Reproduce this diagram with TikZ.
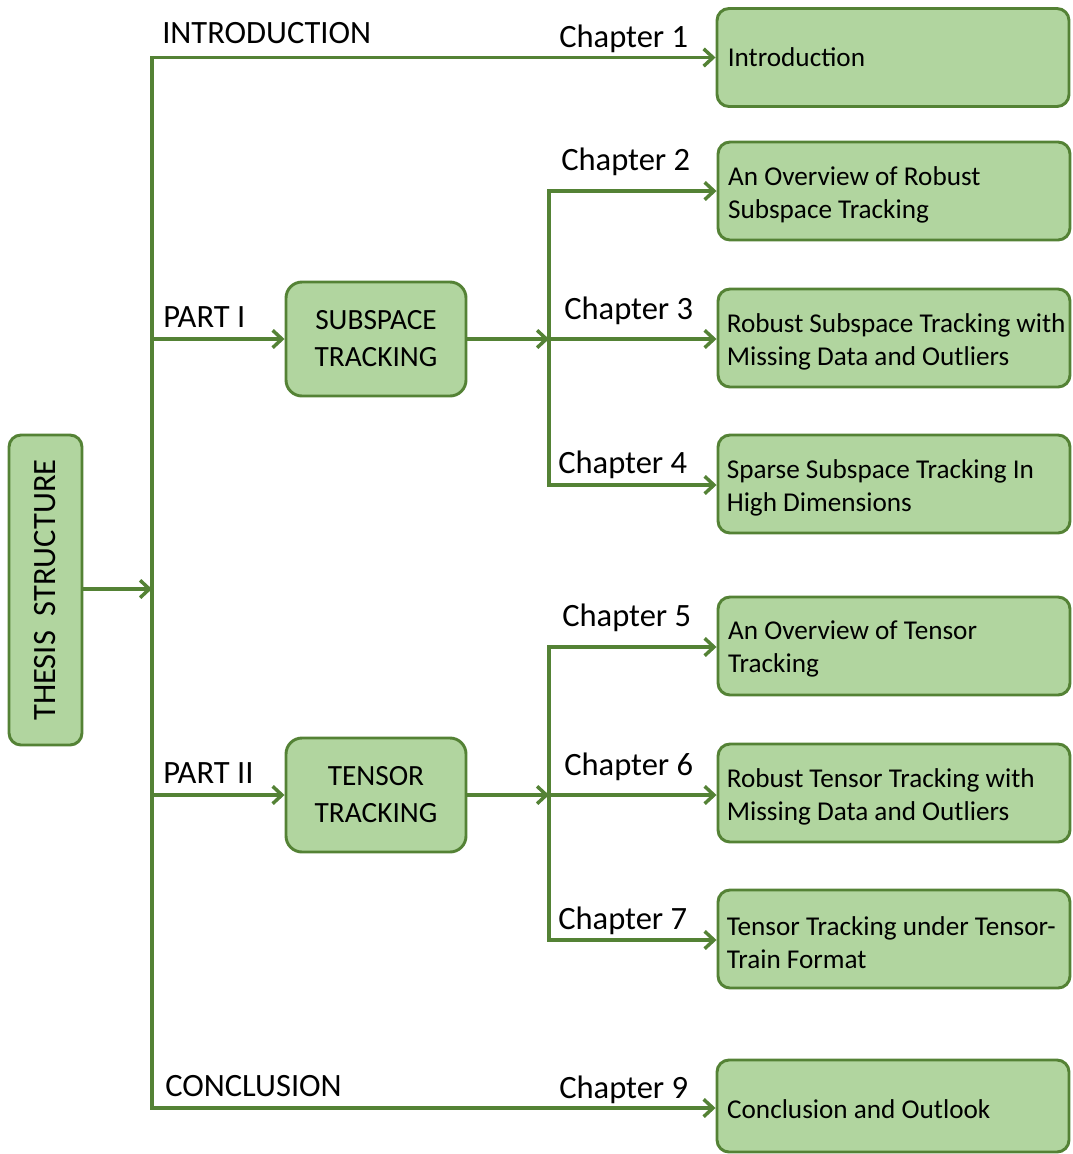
\documentclass[tikz,border=0pt]{standalone}
\usepackage{fontspec}
\setmainfont{Carlito}
\usetikzlibrary{arrows.meta,calc}
\definecolor{lc}{HTML}{548235}
\definecolor{bf}{HTML}{B1D59F}
\newcommand\lblfont{\fontsize{24.4}{29}\selectfont}
\newcommand\bxfont{\fontsize{20.4}{24.75}\selectfont}
\newcommand\midfont{\fontsize{22}{27.75}\selectfont}
\newcommand\thfont{\fontsize{24.4}{29}\selectfont}
\tikzset{
  conn/.style={draw=lc, line width=2.6pt},
  arr/.style={conn, -{Straight Barb[length=7pt,width=13pt]}},
  chbox/.style={draw=lc, line width=2.2pt, fill=bf, rounded corners=9pt,
    minimum width=264pt, minimum height=73.5pt, inner sep=0pt},
  chtext/.style={anchor=west, align=left, inner sep=0pt, font=\bxfont},
  midbox/.style={draw=lc, line width=2.2pt, fill=bf, rounded corners=12pt,
    minimum width=135pt, minimum height=85.5pt, align=center, font=\midfont, inner sep=0pt},
  lbl/.style={anchor=base west, inner sep=0pt, font=\lblfont},
}
\begin{document}
\begin{tikzpicture}[x=0.75pt,y=-0.75pt]
\useasboundingbox (0,0) rectangle (1072,1154);

% main box
\node[draw=lc, line width=2.2pt, fill=bf, rounded corners=9pt, rotate=90,
  minimum width=232.5pt, minimum height=54.75pt, font=\thfont, inner sep=0pt]
  (thesis) at (45.5,590) {THESIS~~STRUCTURE};

% middle boxes
\node[midbox] (sub) at (376,339) {SUBSPACE\\TRACKING};
\node[midbox] (ten) at (376,795) {TENSOR\\TRACKING};

% chapter boxes
\node[chbox] (ch1) at (893,57.5) {};
\node[chtext] (t1) at ([xshift=9pt]ch1.west) {Introduction};
\node[chbox] (ch2) at (894,191) {};
\node[chtext] (t2) at ([xshift=8.5pt,yshift=-3pt]ch2.west) {An Overview of Robust\\Subspace Tracking};
\node[chbox] (ch3) at (894,338) {};
\node[chtext] (t3) at ([xshift=7.5pt,yshift=-3pt]ch3.west) {Robust Subspace Tracking with\\Missing Data and Outliers};
\node[chbox] (ch4) at (894,484) {};
\node[chtext] (t4) at ([xshift=7.5pt,yshift=-3pt]ch4.west) {Sparse Subspace Tracking In\\High Dimensions};
\node[chbox] (ch5) at (894,646) {};
\node[chtext] (t5) at ([xshift=8.5pt,yshift=-2pt]ch5.west) {An Overview of Tensor\\Tracking};
\node[chbox] (ch6) at (894,793) {};
\node[chtext] (t6) at ([xshift=7.5pt,yshift=-3pt]ch6.west) {Robust Tensor Tracking with\\Missing Data and Outliers};
\node[chbox] (ch7) at (894,939) {};
\node[chtext] (t7) at ([xshift=7.5pt,yshift=-3pt]ch7.west) {Tensor Tracking under Tensor-\\Train Format};
\node[chbox, minimum height=69pt] (ch9) at (893,1106) {};
\node[chtext] (t9) at ([xshift=8.5pt,yshift=-2.5pt]ch9.west) {Conclusion and Outlook};

% spine coordinates
\coordinate (sT) at (152,57.5);
\coordinate (sB) at (152,1108);
\coordinate (sM) at (152,589);
\coordinate (sP1) at (152,339);
\coordinate (sP2) at (152,795);
\coordinate (b1t) at (549,191);
\coordinate (b1m) at (549,339);
\coordinate (b1b) at (549,485);
\coordinate (b2t) at (549,647);
\coordinate (b2m) at (549,795);
\coordinate (b2b) at (549,940);

% connectors
\draw[arr] (sB) -- (sT) -- (ch1.west |- sT);
\draw[arr] (sT) -- (sB) -- (ch9.west |- sB);
\draw[arr] (thesis.south |- sM) -- (sM);
\draw[arr] (sP1) -- (sub.west |- sP1);
\draw[arr] (sP2) -- (ten.west |- sP2);

\draw[arr] (sub.east |- b1m) -- (b1m);
\draw[arr] (b1b) -- (b1t) -- (ch2.west |- b1t);
\draw[arr] (b1t) -- (b1b) -- (ch4.west |- b1b);
\draw[arr] (b1m) -- (ch3.west |- b1m);

\draw[arr] (ten.east |- b2m) -- (b2m);
\draw[arr] (b2b) -- (b2t) -- (ch5.west |- b2t);
\draw[arr] (b2t) -- (b2b) -- (ch7.west |- b2b);
\draw[arr] (b2m) -- (ch6.west |- b2m);

% labels
\node[lbl] (lintro) at (162,43) {INTRODUCTION};
\node[lbl] (lp1) at (163,327) {PART I};
\node[lbl] (lp2) at (163,783) {PART II};
\node[lbl] (lconc) at (165,1096) {CONCLUSION};
\node[lbl] (l1) at (559,47) {Chapter 1};
\node[lbl] (l2) at (561,170) {Chapter 2};
\node[lbl] (l3) at (564,319) {Chapter 3};
\node[lbl] (l4) at (558,473) {Chapter 4};
\node[lbl] (l5) at (562,626) {Chapter 5};
\node[lbl] (l6) at (564,775) {Chapter 6};
\node[lbl] (l7) at (558,929) {Chapter 7};
\node[lbl] (l9) at (559,1098) {Chapter 9};
\end{tikzpicture}
\end{document}
